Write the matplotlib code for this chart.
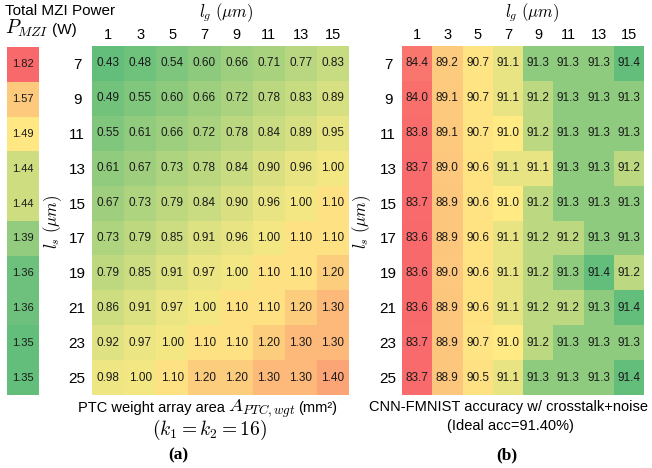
import numpy as np
import matplotlib
matplotlib.use("Agg")
import matplotlib.pyplot as plt
from matplotlib.colors import LinearSegmentedColormap, TwoSlopeNorm

plt.rcParams['font.family'] = ['Liberation Sans', 'DejaVu Sans']
plt.rcParams['mathtext.fontset'] = 'cm'

# datos
lg = [1, 3, 5, 7, 9, 11, 13, 15]
ls = [7, 9, 11, 13, 15, 17, 19, 21, 23, 25]

potencia = [1.82, 1.57, 1.49, 1.44, 1.44, 1.39, 1.36, 1.36, 1.35, 1.35]

area = np.array([
    [0.43, 0.48, 0.54, 0.60, 0.66, 0.71, 0.77, 0.83],
    [0.49, 0.55, 0.60, 0.66, 0.72, 0.78, 0.83, 0.89],
    [0.55, 0.61, 0.66, 0.72, 0.78, 0.84, 0.89, 0.95],
    [0.61, 0.67, 0.73, 0.78, 0.84, 0.90, 0.96, 1.00],
    [0.67, 0.73, 0.79, 0.84, 0.90, 0.96, 1.00, 1.10],
    [0.73, 0.79, 0.85, 0.91, 0.96, 1.00, 1.10, 1.10],
    [0.79, 0.85, 0.91, 0.97, 1.00, 1.10, 1.10, 1.20],
    [0.86, 0.91, 0.97, 1.00, 1.10, 1.10, 1.20, 1.30],
    [0.92, 0.97, 1.00, 1.10, 1.10, 1.20, 1.30, 1.30],
    [0.98, 1.00, 1.10, 1.20, 1.20, 1.30, 1.30, 1.40],
])

acc = np.array([
    [84.4, 89.2, 90.7, 91.1, 91.3, 91.3, 91.3, 91.4],
    [84.0, 89.1, 90.7, 91.1, 91.2, 91.3, 91.3, 91.3],
    [83.8, 89.1, 90.7, 91.0, 91.2, 91.3, 91.3, 91.3],
    [83.7, 89.0, 90.6, 91.1, 91.1, 91.3, 91.3, 91.2],
    [83.7, 88.9, 90.6, 91.0, 91.2, 91.3, 91.3, 91.3],
    [83.6, 88.9, 90.6, 91.1, 91.2, 91.2, 91.3, 91.3],
    [83.6, 89.0, 90.6, 91.1, 91.2, 91.3, 91.4, 91.2],
    [83.6, 88.9, 90.6, 91.1, 91.2, 91.2, 91.3, 91.4],
    [83.7, 88.9, 90.7, 91.0, 91.2, 91.3, 91.3, 91.3],
    [83.7, 88.9, 90.5, 91.1, 91.3, 91.3, 91.3, 91.4],
])

# colores tipo escala de 3 colores
cmap = LinearSegmentedColormap.from_list("ryg", ["#F8696B", "#FFEB84", "#63BE7B"])
cmap_r = cmap.reversed()

W, H = 652, 468
fig = plt.figure(figsize=(W / 100, H / 100), dpi=100)
renderer = fig.canvas.get_renderer()


def caja(x0, y0, x1, y1):
    return [x0 / W, 1 - y1 / H, (x1 - x0) / W, (y1 - y0) / H]


def dibujar(ax, datos, cm, norm, fmt, fs):
    ax.pcolormesh(datos, cmap=cm, norm=norm)
    ax.set_xlim(0, datos.shape[1])
    ax.set_ylim(datos.shape[0], 0)
    for i in range(datos.shape[0]):
        for j in range(datos.shape[1]):
            ax.text(j + 0.5, i + 0.5, fmt.format(datos[i, j]), ha='center', va='center',
                    fontsize=fs, color='#1a1a1a')
    for s in ax.spines.values():
        s.set_visible(False)


def partes(x, y_base, trozos, gap=4, ha='center'):
    # pone varios textos seguidos sobre la misma linea base
    objs = [fig.text(0, 1 - y_base / H, s, fontsize=fs, va='baseline') for s, fs in trozos]
    anchos = [t.get_window_extent(renderer).width for t in objs]
    total = sum(anchos) + gap * (len(objs) - 1)
    x0 = x - total / 2 if ha == 'center' else x
    for t, w in zip(objs, anchos):
        t.set_x(x0 / W)
        x0 += w + gap


# columna de potencia
ax_p = fig.add_axes(caja(7, 47, 39, 395))
dibujar(ax_p, np.array(potencia).reshape(-1, 1), cmap_r,
        TwoSlopeNorm(vmin=1.35, vcenter=1.48, vmax=1.82), "{:.2f}", 8)
ax_p.set_xticks([])
ax_p.set_yticks([])

# (a) area
ax_a = fig.add_axes(caja(92, 46, 349, 395))
dibujar(ax_a, area, cmap_r, TwoSlopeNorm(vmin=0.43, vcenter=1.05, vmax=1.7), "{:.2f}", 8.5)

# (b) precision
ax_b = fig.add_axes(caja(402, 46, 644, 395))
dibujar(ax_b, acc, cmap, TwoSlopeNorm(vmin=83.6, vcenter=91.05, vmax=91.4), "{:.1f}", 8.5)

for ax, pad_y in [(ax_a, 10.8), (ax_b, 10.0)]:
    ax.xaxis.tick_top()
    ax.set_xticks(np.arange(len(lg)) + 0.5)
    ax.set_xticklabels([str(v) for v in lg], fontsize=10.5)
    ax.set_yticks(np.arange(len(ls)) + 0.5)
    ax.set_yticklabels([str(v) for v in ls], fontsize=11, ha='center')
    ax.tick_params(length=0)
    ax.tick_params(axis='x', pad=3)
    ax.tick_params(axis='y', pad=pad_y)

# etiquetas
fig.text(5 / W, 1 - 11 / H, "Total MZI Power", fontsize=11, ha='left', va='center')
partes(5, 34, [(r"$P_{MZI}$", 14), ("(W)", 11)], gap=3, ha='left')
fig.text(226 / W, 1 - 13 / H, r"$l_g\ (\mu m)$", fontsize=12, ha='center', va='center')
fig.text(532 / W, 1 - 13 / H, r"$l_g\ (\mu m)$", fontsize=12, ha='center', va='center')
fig.text(53 / W, 1 - 222 / H, r"$l_s\ (\mu m)$", fontsize=12, ha='center', va='center', rotation=90)
fig.text(362 / W, 1 - 222 / H, r"$l_s\ (\mu m)$", fontsize=12, ha='center', va='center', rotation=90)

partes(208, 412, [("PTC weight array area", 10.5), (r"$A_{PTC,wgt}$", 13.5), ("(mm²)", 10.5)], gap=3)
fig.text(209 / W, 1 - 430 / H, r"$(k_1=k_2=16)$", fontsize=14, ha='center', va='center')
fig.text(508 / W, 1 - 407 / H, "CNN-FMNIST accuracy w/ crosstalk+noise", fontsize=10.5,
         ha='center', va='center')
fig.text(510 / W, 1 - 426 / H, "(Ideal acc=91.40%)", fontsize=10.5, ha='center', va='center')
fig.text(178 / W, 1 - 455 / H, "(a)", fontsize=12.5, ha='center', va='center',
         family='Liberation Serif', weight='bold')
fig.text(507 / W, 1 - 455 / H, "(b)", fontsize=12.5, ha='center', va='center',
         family='Liberation Serif', weight='bold')

plt.savefig("out.png", dpi=100)
